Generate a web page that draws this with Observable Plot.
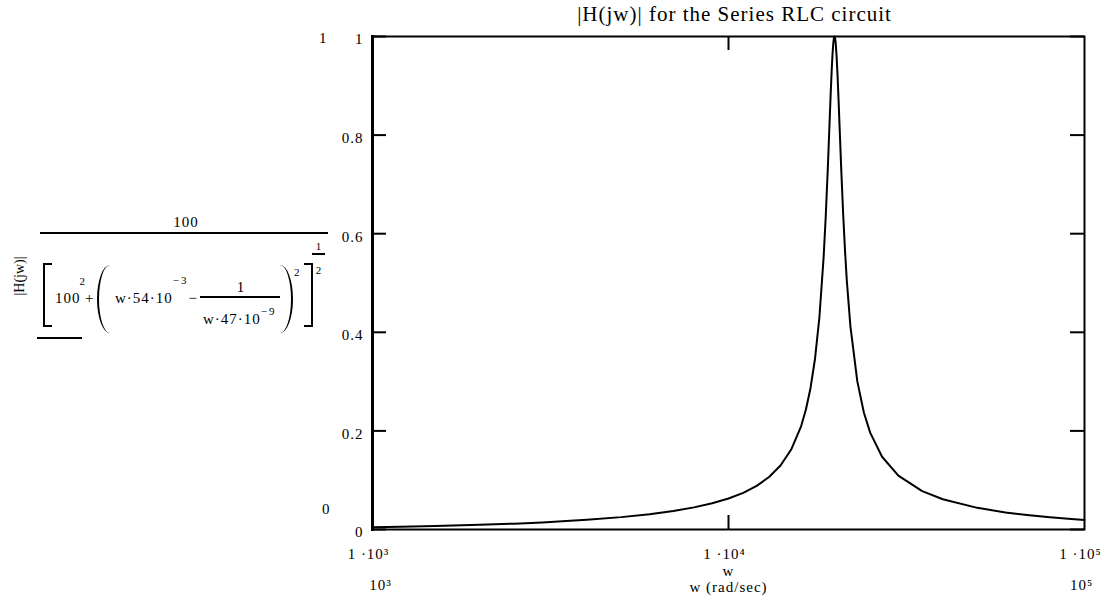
<!DOCTYPE html>
<html><head><meta charset="utf-8">
<script src="https://cdn.jsdelivr.net/npm/d3@7"></script>
<script src="https://cdn.jsdelivr.net/npm/@observablehq/plot@0.6"></script>
<style>
body{margin:0;background:#fff;}
#wrap{position:relative;width:1107px;height:613px;overflow:hidden;font-family:"Liberation Serif","Times New Roman",serif;color:#000;background:#fff;}
#wrap svg{position:absolute;left:0;top:0;}
.t{position:absolute;white-space:nowrap;line-height:1;font-size:15px;letter-spacing:1px;}
.ln{position:absolute;background:#000;}
.br{position:absolute;border:2px solid #000;box-sizing:border-box;}
</style></head><body><div id="wrap"></div>
<script>
// angular frequency w (rad/sec) and |H(jw)|
const omega = [1000, 1200, 1500, 2000, 2500, 3000, 3500, 4000, 5000, 6000, 7000, 8000, 9000, 10000,
  11000, 12000, 13000, 14000, 15000, 16000, 16500, 17000, 17500, 18000, 18500, 18750, 19000, 19125,
  19250, 19375, 19500, 19600, 19700, 19775, 19850, 19925, 20000, 20125, 20250, 20375, 20500, 20750,
  21000, 21250, 21500, 22000, 23000, 24000, 25000, 27000, 30000, 35000, 40000, 50000, 60000, 70000,
  80000, 90000, 100000];
const magnitude = [0.0047, 0.0057, 0.0071, 0.0095, 0.0119, 0.0144, 0.0170, 0.0196, 0.0251, 0.0310, 0.0376, 0.0449, 0.0532, 0.0629,
  0.0744, 0.0885, 0.1064, 0.1298, 0.1622, 0.2099, 0.2434, 0.2871, 0.3464, 0.4299, 0.5519, 0.6330, 0.7293, 0.7818,
  0.8354, 0.8876, 0.9344, 0.9651, 0.9872, 0.9968, 1.0000, 0.9967, 0.9871, 0.9590, 0.9194, 0.8724, 0.8227, 0.7246,
  0.6377, 0.5646, 0.5039, 0.4124, 0.3009, 0.2372, 0.1965, 0.1476, 0.1091, 0.0778, 0.0613, 0.0439, 0.0346, 0.0288,
  0.0247, 0.0216, 0.0193];

const yTicks = [0, 0.2, 0.4, 0.6, 0.8, 1];
const xTicks = [1e3, 1e4, 1e5];
const xTickLabels = ["1 ·10³", "1 ·10⁴", "1 ·10⁵"];
const xLimitLabels = ["10³", "10⁵"];
const yLimitLabels = ["0", "1"];
const innerTicksX = [1e4];
const titleText = "|H(jw)| for the Series RLC circuit";
const xLabelLines = ["w", "w (rad/sec)"];
const yLabelText = "|H(jw)|";

const W = 1107, H = 613, mL = 372, mR = 23, mT = 36, mB = 84;
const pw = W - mL - mR, ph = H - mT - mB, tk = 14;

const data = omega.map((w, i) => ({w, h: magnitude[i]}));

const chart = Plot.plot({
  width: W, height: H,
  marginLeft: mL, marginRight: mR, marginTop: mT, marginBottom: mB,
  style: {fontFamily: "'Liberation Serif', 'Times New Roman', serif", fontSize: "15px", letterSpacing: "1px", background: "transparent", color: "#000", overflow: "visible"},
  x: {type: "log", domain: [1e3, 1e5]},
  y: {domain: [0, 1]},
  marks: [
    Plot.line(data, {x: "w", y: "h", stroke: "#000", strokeWidth: 2}),
    Plot.tickY(yTicks, {y: d => d, insetRight: pw - tk, stroke: "#000", strokeWidth: 2}),
    Plot.tickY(yTicks, {y: d => d, insetLeft: pw - tk, stroke: "#000", strokeWidth: 2}),
    Plot.tickX(innerTicksX, {x: d => d, insetBottom: ph - tk, stroke: "#000", strokeWidth: 2}),
    Plot.tickX(innerTicksX, {x: d => d, insetTop: ph - tk, stroke: "#000", strokeWidth: 2}),
    Plot.frame({stroke: "#000", strokeWidth: 2}),
    Plot.frame({anchor: "left", stroke: "#000", strokeWidth: 3}),
    Plot.axisY(yTicks, {anchor: "left", tickSize: 0, tickPadding: 9, dy: 3, tickFormat: d => String(d), label: null}),
    Plot.axisY([1], {anchor: "left", tickSize: 0, tickPadding: 45, dy: 2, tickFormat: () => yLimitLabels[1], label: null}),
    Plot.axisY([0], {anchor: "left", tickSize: 0, tickPadding: 42, dy: -20, tickFormat: () => yLimitLabels[0], label: null}),
    Plot.axisX(xTicks, {anchor: "bottom", tickSize: 0, tickPadding: 19, dx: -4, tickFormat: d => xTickLabels[xTicks.indexOf(d)], label: null}),
    Plot.axisX([1e3], {anchor: "bottom", tickSize: 0, tickPadding: 50, dx: 8, tickFormat: () => xLimitLabels[0], label: null}),
    Plot.axisX([1e5], {anchor: "bottom", tickSize: 0, tickPadding: 50, dx: -3, tickFormat: () => xLimitLabels[1], label: null}),
    Plot.text([xLabelLines[0]], {text: d => d, frameAnchor: "bottom", lineAnchor: "top", dy: 36, fill: "#000"}),
    Plot.text([xLabelLines[1]], {text: d => d, frameAnchor: "bottom", lineAnchor: "top", dy: 52, fill: "#000"}),
    Plot.text([titleText], {text: d => d, frameAnchor: "top", lineAnchor: "top", dy: -30, dx: 6, fontSize: 21, fill: "#000", ariaLabel: "title"})
  ]
});
const wrap = document.getElementById("wrap");
wrap.appendChild(chart);
d3.select(chart).selectAll("g[aria-label=title] text").style("letter-spacing", "0.9px");

// Mathcad-style formula for the y-axis expression
function txt(s, x, y, size = 15, center = false) {
  const e = document.createElement("div");
  e.className = "t";
  e.textContent = s;
  e.style.left = x + "px"; e.style.top = y + "px"; e.style.fontSize = size + "px";
  e.style.transform = center ? "translate(-50%,-50%)" : "translate(0,-50%)";
  wrap.appendChild(e);
  return e;
}
function rightOf(e) {
  const r = e.getBoundingClientRect(), w = wrap.getBoundingClientRect();
  return r.right - w.left;
}
function hline(x1, x2, y, t = 2) {
  const e = document.createElement("div");
  e.className = "ln";
  e.style.left = x1 + "px"; e.style.width = (x2 - x1) + "px";
  e.style.top = (y - t / 2) + "px"; e.style.height = t + "px";
  wrap.appendChild(e);
}
function box(x, y, w, h, css) {
  const e = document.createElement("div");
  e.className = "br";
  e.style.left = x + "px"; e.style.top = y + "px"; e.style.width = w + "px"; e.style.height = h + "px";
  Object.assign(e.style, css);
  wrap.appendChild(e);
}
const yl = txt(yLabelText, 20, 276, 14, true);
yl.style.letterSpacing = "0px";
yl.style.transform = "translate(-50%,-50%) rotate(-90deg)";

txt("100", 186, 222, 15, true);
hline(40, 328, 233, 2);
box(43, 263, 9, 64, {borderRight: "none"});
const a1 = txt("100", 55, 298);
txt("2", rightOf(a1) - 1, 281, 11);
txt("+", 85, 298);
box(97, 265, 13, 68, {borderTop: "none", borderRight: "none", borderBottom: "none", borderRadius: "13px 0 0 13px / 34px 0 0 34px"});
const a2 = txt("w·54·10", 115, 298);
const s2 = txt("−3", rightOf(a2), 280, 11);
s2.style.letterSpacing = "2px";
txt("−", Math.max(187, rightOf(s2)), 298);
hline(200, 280, 297, 1.5);
txt("1", 241, 287, 15, true);
const a3 = txt("w·47·10", 203, 319);
const s3 = txt("−9", rightOf(a3), 311, 11);
s3.style.letterSpacing = "2px";
box(280, 265, 13, 68, {borderTop: "none", borderLeft: "none", borderBottom: "none", borderRadius: "0 13px 13px 0 / 0 34px 34px 0"});
txt("2", 294, 272, 11);
box(304, 263, 9, 64, {borderLeft: "none"});
txt("1", 319, 246, 11, true);
hline(312, 325, 254, 2);
txt("2", 319, 270, 11, true);
hline(37, 82, 338, 2);
</script>
</body></html>
